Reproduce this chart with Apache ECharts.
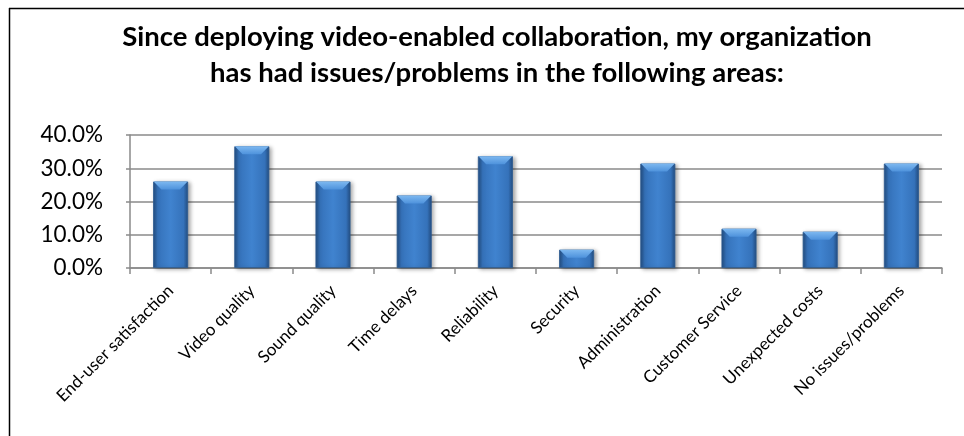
<!DOCTYPE html>
<html>
<head>
<meta charset="utf-8">
<title>Video collaboration issues</title>
<script src="https://cdn.jsdelivr.net/npm/echarts@6/dist/echarts.min.js"></script>
<style>
  html, body { margin: 0; padding: 0; background: #ffffff; }
  #chart { width: 964px; height: 436px; }
</style>
</head>
<body>
<div id="chart"></div>
<script>
// Survey areas and share of respondents reporting problems (%)
const categories = [
  'End-user satisfaction', 'Video quality', 'Sound quality', 'Time delays',
  'Reliability', 'Security', 'Administration', 'Customer Service',
  'Unexpected costs', 'No issues/problems'
];
const shares = [26.0, 36.6, 26.0, 21.8, 33.6, 5.5, 31.4, 11.8, 10.9, 31.4];
const yTicks = [0, 10, 20, 30, 40];

const titleText = 'Since deploying video-enabled collaboration, my organization\nhas had issues/problems in the following areas:';

const chart = echarts.init(document.getElementById('chart'), null, { renderer: 'canvas' });

const BAR_W = 35;

// body of each column: darker rim, lighter centre
const bodyFill = new echarts.graphic.LinearGradient(0, 0, 1, 0, [
  { offset: 0, color: '#234d80' },
  { offset: 0.13, color: '#3572ba' },
  { offset: 0.5, color: '#4083cf' },
  { offset: 0.87, color: '#3572ba' },
  { offset: 1, color: '#234d80' }
]);
// bevelled cap on top of each column
const capFill = new echarts.graphic.LinearGradient(0, 0, 0, 1, [
  { offset: 0, color: '#7db8f0' },
  { offset: 1, color: '#4e92dc' }
]);

chart.setOption({
  animation: false,
  backgroundColor: '#ffffff',
  title: {
    text: titleText,
    left: 492,
    top: 14,
    textAlign: 'center',
    textStyle: {
      fontFamily: 'Lato',
      fontWeight: 'bold',
      fontSize: 27.5,
      lineHeight: 36,
      color: '#000000'
    }
  },
  graphic: [
    { type: 'line', shape: { x1: 9.5, y1: 8, x2: 9.5, y2: 436 }, style: { stroke: '#000', lineWidth: 1.5 } },
    { type: 'line', shape: { x1: 9, y1: 8.5, x2: 964, y2: 8.5 }, style: { stroke: '#000', lineWidth: 1.5 } }
  ],
  grid: { left: 130, right: 22, top: 135, bottom: 168, containLabel: false },
  xAxis: {
    type: 'category',
    data: categories,
    boundaryGap: true,
    axisLine: { show: true, lineStyle: { color: '#8a8a8a', width: 1.5 } },
    axisTick: { show: true, length: 6, alignWithLabel: false, lineStyle: { color: '#8a8a8a', width: 1.5 } },
    axisLabel: {
      rotate: 45,
      margin: 20,
      fontFamily: 'Lato',
      fontSize: 17,
      color: '#000000',
      interval: 0
    }
  },
  yAxis: {
    type: 'value',
    min: yTicks[0],
    max: yTicks[yTicks.length - 1],
    interval: 10,
    axisLine: { show: true, lineStyle: { color: '#8a8a8a', width: 1.5 } },
    axisTick: { show: true, length: 4, lineStyle: { color: '#8a8a8a', width: 1.5 } },
    splitLine: { show: true, lineStyle: { color: '#8a8a8a', width: 1.5 } },
    axisLabel: {
      margin: 27,
      fontFamily: 'Lato',
      fontSize: 22.5,
      color: '#000000',
      formatter: v => v.toFixed(1) + '%'
    }
  },
  series: [
    {
      name: 'Share',
      type: 'bar',
      data: shares,
      barWidth: BAR_W,
      itemStyle: {
        color: bodyFill,
        borderColor: '#2c5a90',
        borderWidth: 0.8,
        shadowColor: 'rgba(0,0,0,0.35)',
        shadowBlur: 4,
        shadowOffsetX: 2,
        shadowOffsetY: 1
      },
      z: 2
    },
    {
      name: 'Cap',
      type: 'pictorialBar',
      data: shares,
      barWidth: BAR_W,
      barGap: '-100%',
      symbol: 'path://M0,0 L35,0 L27,8 L8,8 Z',
      symbolSize: [BAR_W - 1, 8],
      symbolPosition: 'end',
      itemStyle: { color: capFill },
      silent: true,
      z: 3
    }
  ]
});
</script>
</body>
</html>
